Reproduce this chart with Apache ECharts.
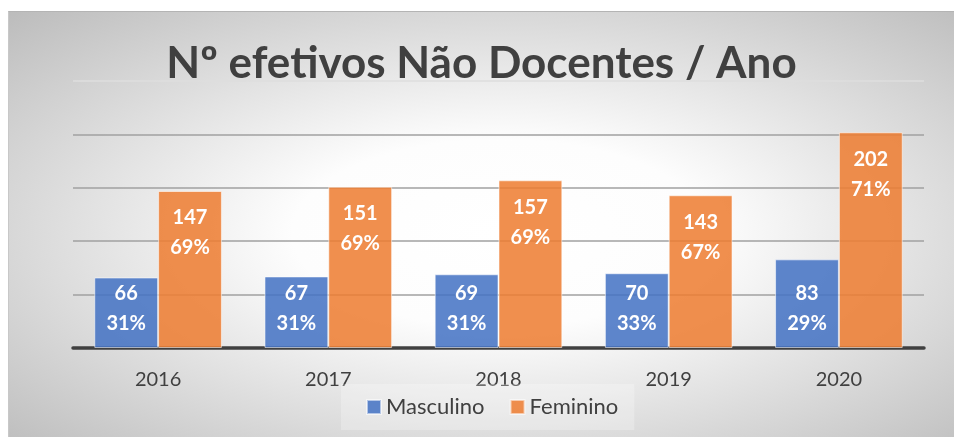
<!DOCTYPE html>
<html>
<head>
<meta charset="utf-8">
<script src="https://cdn.jsdelivr.net/npm/echarts@6/dist/echarts.min.js"></script>
<style>
  html, body { margin: 0; padding: 0; background: #ffffff; }
  #wrap {
    position: absolute; left: 8px; top: 11px; width: 946px; height: 426px;
    border-top: 1px solid #b4b4b4; border-left: 1px solid #c8c8c8;
    box-sizing: border-box;
    background: radial-gradient(ellipse farthest-corner at 52% 52%, #ffffff 0%, #fdfdfd 30%, #bcbcbc 100%);
  }
  #chart { width: 945px; height: 425px; }
</style>
</head>
<body>
<div id="wrap"><div id="chart"></div></div>
<script>
const titleText = 'Nº efetivos Não Docentes / Ano';
const categories = ['2016', '2017', '2018', '2019', '2020'];
const masculino = [66, 67, 69, 70, 83];
const feminino = [147, 151, 157, 143, 202];
const masculinoPct = ['31%', '31%', '31%', '33%', '29%'];
const femininoPct = ['69%', '69%', '69%', '67%', '71%'];

const font = 'Lato, "Open Sans", sans-serif';
const chart = echarts.init(document.getElementById('chart'), null, { renderer: 'canvas' });

chart.setOption({
  backgroundColor: 'transparent',
  textStyle: { fontFamily: font },
  title: {
    text: titleText,
    left: 'center',
    top: 25,
    textStyle: { fontFamily: font, fontWeight: 'bold', fontSize: 44, color: '#404040' }
  },
  legend: {
    data: ['Masculino', 'Feminino'],
    left: 332,
    top: 372,
    padding: [12, 16, 12, 25],
    backgroundColor: 'rgba(255,255,255,0.25)',
    itemWidth: 14, itemHeight: 14, itemGap: 25,
    icon: 'rect',
    textStyle: { fontFamily: font, fontSize: 22, color: '#404040' }
  },
  grid: { left: 64, right: 30, top: 69, bottom: 89, containLabel: false },
  xAxis: {
    type: 'category',
    data: categories,
    axisLine: { show: true, lineStyle: { color: '#404040', width: 3.5 } },
    axisTick: { show: false },
    axisLabel: { fontFamily: font, fontSize: 20, color: '#404040', margin: 22 }
  },
  yAxis: {
    type: 'value',
    min: 0, max: 250, interval: 50,
    axisLabel: { show: false },
    axisLine: { show: false },
    axisTick: { show: false },
    splitLine: { lineStyle: { color: ['#a0a0a0', '#a0a0a0', '#a0a0a0', '#a0a0a0', '#a0a0a0', '#dedede'], width: 1.5 } }
  },
  series: [
    {
      name: 'Masculino', type: 'bar', data: masculino,
      barGap: '0%', barCategoryGap: '25%',
      itemStyle: { color: 'rgba(68,114,196,0.86)', borderColor: 'rgba(255,255,255,0.55)', borderWidth: 1 },
      label: {
        show: true, position: 'insideBottom', distance: 9,
        formatter: p => p.value + '\n' + masculinoPct[p.dataIndex],
        color: '#ffffff', fontFamily: font, fontWeight: 'bold', fontSize: 20, lineHeight: 30
      }
    },
    {
      name: 'Feminino', type: 'bar', data: feminino,
      barGap: '0%', barCategoryGap: '25%',
      itemStyle: { color: 'rgba(237,125,49,0.86)', borderColor: 'rgba(255,255,255,0.55)', borderWidth: 1 },
      label: {
        show: true, position: 'insideTop', distance: 12,
        formatter: p => p.value + '\n' + femininoPct[p.dataIndex],
        color: '#ffffff', fontFamily: font, fontWeight: 'bold', fontSize: 20, lineHeight: 30
      }
    }
  ]
});
</script>
</body>
</html>
